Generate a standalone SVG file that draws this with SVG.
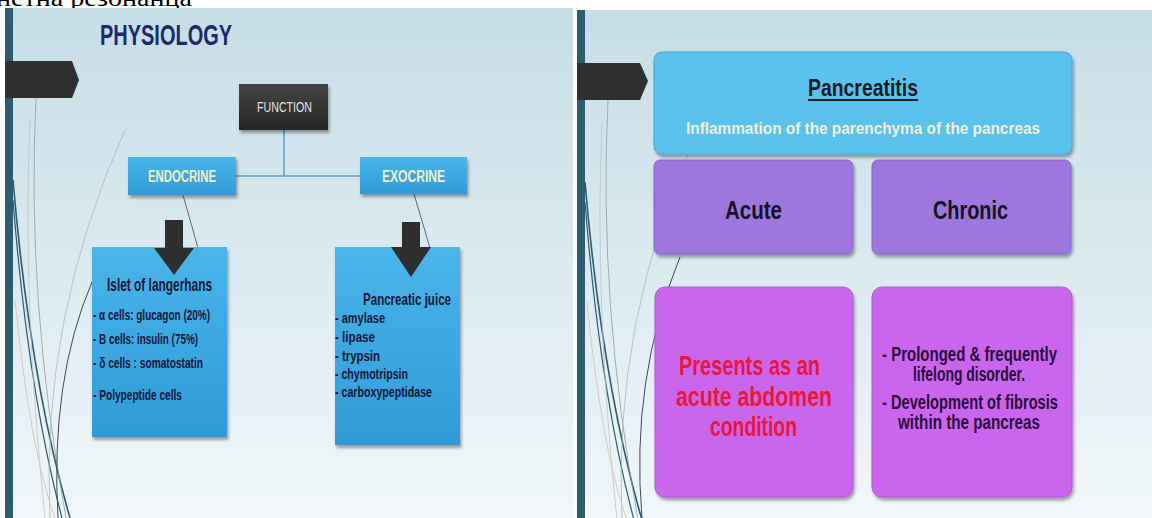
<svg xmlns="http://www.w3.org/2000/svg" width="1152" height="518" viewBox="0 0 1152 518">
<defs>
<linearGradient id="bg" x1="0" y1="0" x2="0" y2="1">
<stop offset="0" stop-color="#c6dde6"/><stop offset="0.5" stop-color="#dbeaf0"/><stop offset="1" stop-color="#f1f7fa"/>
</linearGradient>
<linearGradient id="gBlue" x1="0" y1="0" x2="0" y2="1">
<stop offset="0" stop-color="#4ab5ea"/><stop offset="1" stop-color="#2f9bd8"/>
</linearGradient>
<linearGradient id="gDark" x1="0" y1="0" x2="0" y2="1">
<stop offset="0" stop-color="#444"/><stop offset="1" stop-color="#262626"/>
</linearGradient>
<filter id="sh" x="-10%" y="-10%" width="130%" height="130%">
<feDropShadow dx="1.5" dy="3" stdDeviation="1.5" flood-color="#000" flood-opacity="0.35"/>
</filter>
<clipPath id="clipL"><rect x="5" y="8" width="568" height="510"/></clipPath>
<clipPath id="clipR"><rect x="577" y="10" width="575" height="508"/></clipPath>
<g id="deco" fill="none">
<path d="M13 180 Q30 380 70 518" fill="none" stroke="#2d5a6e" stroke-width="1.6"/>
<path d="M13 200 Q28 390 62 518" fill="none" stroke="#2d5a6e" stroke-width="1.2"/>
<path d="M36 98 Q26 300 66 518" fill="none" stroke="#8e9ca2" stroke-width="0.8"/>
<path d="M30 120 Q22 300 45 518" fill="none" stroke="#b8c4c8" stroke-width="0.8"/>
<path d="M125 130 Q40 320 50 518" fill="none" stroke="#aab6bb" stroke-width="0.8"/>
<path d="M15 300 Q30 450 55 518" fill="none" stroke="#d6cbbb" stroke-width="1"/>
</g>
</defs>
<style>
.t{font-family:"Liberation Sans",Arial,sans-serif;font-weight:bold}
.n{font-weight:normal}
.dk{fill:#16163a}
.cr{fill:#f3efc4}
.conn{stroke:#5a9ec4;stroke-width:1.5;fill:none}
.thin{stroke:#3a4a55;stroke-width:0.8;fill:none}
.arr{fill:#2e2e2e}
.tab{fill:#2f2f2f}
.bl{fill:url(#gBlue);filter:url(#sh)}
.pur{fill:#9e77de;stroke:#8a65c9;stroke-width:1;filter:url(#sh)}
.pnk{fill:#ca66ee;stroke:#b355d6;stroke-width:1;filter:url(#sh)}
</style>
<rect width="1152" height="518" fill="#fff"/>
<text x="-4" y="6" font-family="'Liberation Serif','Times New Roman',serif" font-size="24" fill="#000" textLength="196" lengthAdjust="spacingAndGlyphs">нетна резонанца</text>

<g id="slide-left">
<rect x="5" y="8" width="568" height="510" fill="url(#bg)"/>
<g clip-path="url(#clipL)"><use href="#deco"/>
<path d="M92 282 Q50 380 58 518" stroke="#3a4a55" stroke-width="1" fill="none"/>
</g>
<rect x="5" y="8" width="8" height="510" fill="#2d5c70"/>
<polygon class="tab" points="5,61 72,61 79,80 72,98 5,98"/>
<text class="t" x="100" y="45" font-size="30" fill="#1b2a6b" textLength="132" lengthAdjust="spacingAndGlyphs">PHYSIOLOGY</text>
</g>

<g id="slide-right">
<rect x="577" y="10" width="575" height="508" fill="url(#bg)"/>
<g clip-path="url(#clipR)"><use href="#deco" transform="translate(572,2)"/>
<path d="M680 257 Q630 380 642 518" stroke="#3a4a55" stroke-width="1" fill="none"/>
</g>
<rect x="577" y="10" width="8" height="508" fill="#2d5c70"/>
<polygon class="tab" points="577,63 640,63 648,81 640,100 577,100"/>
</g>

<g id="connectors">
<line class="conn" x1="284" y1="130" x2="284" y2="176"/>
<line class="conn" x1="236" y1="176" x2="360" y2="176"/>
<line class="thin" x1="183" y1="195" x2="198" y2="248"/>
<line class="thin" x1="414" y1="194" x2="430" y2="248"/>
</g>

<g id="function">
<rect x="239" y="84" width="89" height="46" fill="url(#gDark)" filter="url(#sh)"/>
<text class="t n" x="257" y="112" font-size="15" fill="#e2e2e2" textLength="55" lengthAdjust="spacingAndGlyphs">FUNCTION</text>
</g>

<g id="endocrine">
<rect class="bl" x="128" y="157" width="108" height="38"/>
<text class="t cr" x="148" y="182" font-size="16" textLength="68" lengthAdjust="spacingAndGlyphs">ENDOCRINE</text>
</g>

<g id="exocrine">
<rect class="bl" x="360" y="157" width="107" height="37"/>
<text class="t cr" x="382" y="182" font-size="16" textLength="63" lengthAdjust="spacingAndGlyphs">EXOCRINE</text>
</g>

<g id="islet">
<rect class="bl" x="92" y="247" width="135" height="190"/>
<polygon class="arr" points="165,220 183,220 183,248 194,248 174,275 154,248 165,248"/>
<text class="t dk" x="107" y="291" font-size="18" textLength="105" lengthAdjust="spacingAndGlyphs">Islet of langerhans</text>
<text class="t dk" x="93" y="320" font-size="15" textLength="117" lengthAdjust="spacingAndGlyphs">- α cells: glucagon (20%)</text>
<text class="t dk" x="93" y="344" font-size="15" textLength="105" lengthAdjust="spacingAndGlyphs">- B cells: insulin (75%)</text>
<text class="t dk" x="93" y="368" font-size="15" textLength="110" lengthAdjust="spacingAndGlyphs">- δ cells : somatostatin</text>
<text class="t dk" x="93" y="400" font-size="15" textLength="89" lengthAdjust="spacingAndGlyphs">- Polypeptide cells</text>
</g>

<g id="pancreatic-juice">
<rect class="bl" x="335" y="247" width="125" height="198"/>
<polygon class="arr" points="402,222 420,222 420,247 431,247 411,277 391,247 402,247"/>
<text class="t dk" x="363" y="305" font-size="17" textLength="88" lengthAdjust="spacingAndGlyphs">Pancreatic juice</text>
<text class="t dk" x="335" y="323" font-size="14" textLength="50" lengthAdjust="spacingAndGlyphs">- amylase</text>
<text class="t dk" x="335" y="342" font-size="14" textLength="40" lengthAdjust="spacingAndGlyphs">- lipase</text>
<text class="t dk" x="335" y="361" font-size="14" textLength="45" lengthAdjust="spacingAndGlyphs">- trypsin</text>
<text class="t dk" x="335" y="379" font-size="14" textLength="73" lengthAdjust="spacingAndGlyphs">- chymotripsin</text>
<text class="t dk" x="335" y="397" font-size="14" textLength="97" lengthAdjust="spacingAndGlyphs">- carboxypeptidase</text>
</g>

<g id="pancreatitis">
<rect x="654" y="52" width="418" height="102" rx="8" fill="#5ac2ec" stroke="#48a9d2" filter="url(#sh)"/>
<text class="t" x="808" y="96" font-size="24" fill="#1a1a2a" textLength="110" lengthAdjust="spacingAndGlyphs">Pancreatitis</text>
<line x1="808" y1="100" x2="918" y2="100" stroke="#1a1a2a" stroke-width="2"/>
<text class="t" x="686" y="134" font-size="17" fill="#f2f0d6" textLength="354" lengthAdjust="spacingAndGlyphs">Inflammation of the parenchyma of the pancreas</text>
</g>

<g id="acute">
<rect class="pur" x="654" y="160" width="199" height="94" rx="6"/>
<text class="t" x="725" y="219" font-size="26" fill="#141420" textLength="57" lengthAdjust="spacingAndGlyphs">Acute</text>
</g>

<g id="chronic">
<rect class="pur" x="872" y="160" width="199" height="94" rx="6"/>
<text class="t" x="933" y="219" font-size="26" fill="#141420" textLength="75" lengthAdjust="spacingAndGlyphs">Chronic</text>
</g>

<g id="acute-detail">
<rect class="pnk" x="655" y="287" width="198" height="210" rx="10"/>
<text class="t" x="679" y="375" font-size="28" fill="#e8173a" textLength="141" lengthAdjust="spacingAndGlyphs">Presents as an</text>
<text class="t" x="676" y="406" font-size="28" fill="#e8173a" textLength="156" lengthAdjust="spacingAndGlyphs">acute abdomen</text>
<text class="t" x="710" y="436" font-size="28" fill="#e8173a" textLength="87" lengthAdjust="spacingAndGlyphs">condition</text>
</g>

<g id="chronic-detail">
<rect class="pnk" x="872" y="287" width="200" height="210" rx="10"/>
<text class="t" x="882" y="361" font-size="20" fill="#2a0c3c" textLength="175" lengthAdjust="spacingAndGlyphs">- Prolonged &amp; frequently</text>
<text class="t" x="913" y="381" font-size="20" fill="#2a0c3c" textLength="112" lengthAdjust="spacingAndGlyphs">lifelong disorder.</text>
<text class="t" x="882" y="409" font-size="20" fill="#2a0c3c" textLength="176" lengthAdjust="spacingAndGlyphs">- Development of fibrosis</text>
<text class="t" x="898" y="429" font-size="20" fill="#2a0c3c" textLength="142" lengthAdjust="spacingAndGlyphs">within the pancreas</text>
</g>
</svg>
